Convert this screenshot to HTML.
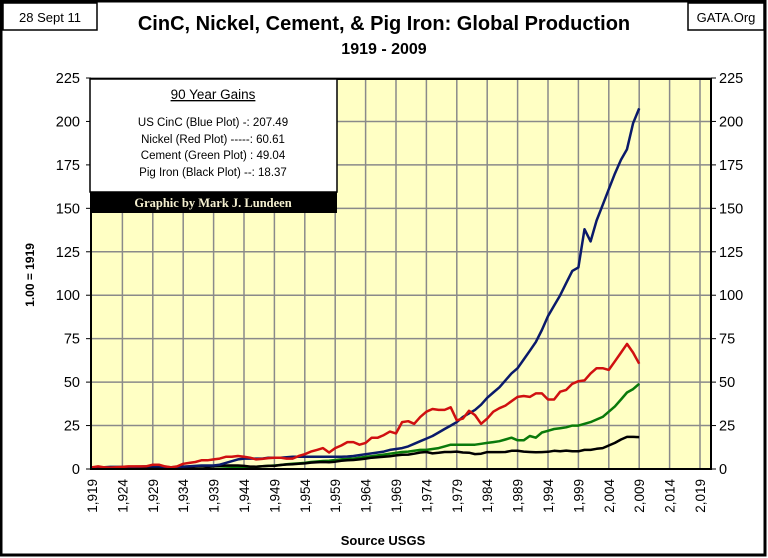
<!DOCTYPE html>
<html><head><meta charset="utf-8">
<style>
html,body{margin:0;padding:0;background:#fff;}
svg{display:block;font-family:"Liberation Sans",sans-serif;}
</style></head>
<body>
<svg id="chart" width="768" height="558" viewBox="0 0 768 558">
<rect x="1" y="1" width="764" height="554" fill="#fff" stroke="#000" stroke-width="3"/>
<rect x="3" y="3" width="94" height="27" fill="#fff" stroke="#000" stroke-width="1.5"/>
<text x="50" y="22" text-anchor="middle" font-size="13">28 Sept 11</text>
<rect x="688" y="3" width="76" height="27" fill="#fff" stroke="#000" stroke-width="1.5"/>
<text x="726" y="22" text-anchor="middle" font-size="13">GATA.Org</text>
<text x="384" y="30" text-anchor="middle" font-size="20" font-weight="bold">CinC, Nickel, Cement, &amp; Pig Iron: Global Production</text>
<text x="384" y="54" text-anchor="middle" font-size="16" font-weight="bold">1919 - 2009</text>
<rect x="91" y="79" width="620" height="390" fill="#ffffc4"/>
<g id="grid"></g>
<g id="series"></g>
<rect x="91" y="79" width="620" height="390" fill="none" stroke="#000" stroke-width="2"/>
<g id="axes"></g>
<g>
<rect x="90" y="79" width="247" height="113" fill="#fff" stroke="#000" stroke-width="1.5"/>
<rect x="90" y="192" width="247" height="21" fill="#000"/>
<text x="213" y="99" text-anchor="middle" font-size="13.5" text-decoration="underline">90 Year Gains</text>
<text x="213" y="126" text-anchor="middle" font-size="11.5">US CinC (Blue Plot) -: 207.49</text>
<text x="213" y="143" text-anchor="middle" font-size="11.5">Nickel (Red Plot) -----:   60.61</text>
<text x="213" y="159" text-anchor="middle" font-size="11.5">Cement  (Green Plot) : 49.04</text>
<text x="213" y="176" text-anchor="middle" font-size="11.5">Pig Iron  (Black Plot) --: 18.37</text>
<text x="213" y="207" text-anchor="middle" font-size="12.5" font-weight="bold" fill="#f5f0d0" font-family="Liberation Serif,serif">Graphic by Mark J. Lundeen</text>
</g>
<text transform="translate(34,275) rotate(-90)" text-anchor="middle" font-size="12" font-weight="bold">1.00 = 1919</text>
<text x="383" y="545" text-anchor="middle" font-size="13" font-weight="bold">Source USGS</text>
</svg>
<script>
const yTicks=[0,25,50,75,100,125,150,175,200,225];
const xTickYears=[1919,1924,1929,1934,1939,1944,1949,1954,1959,1964,1969,1974,1979,1984,1989,1994,1999,2004,2009,2014,2019];
const startYear=1919;
const cinc=[1,1,1,1.2,1.2,1.2,1.3,1.3,1.4,1.5,
1.6,1.5,1.2,1,1.2,1.4,1.6,1.8,2,2,
2,2.5,3.5,4.5,5.5,6,6,6,6,6.5,
6.5,6.5,6.8,7,7,7,7,7,7,7,
7,7,7.2,7.5,8,8.5,9,9.5,10,11,
11.5,12,13,14.5,16,17.5,19,21,23,25,
27,30,32,34,37,41,44,47,51,55,
58,63,68,73,80,88,94,100,107,114,
116,138,131,143,152,161,170,178,184,199,
207.49];
const nickel=[1,1.5,1,0.8,1,1.2,1.5,1.5,1.5,1.6,
2.5,2.5,1.5,1,1.5,3,3.5,4,5,5,
5.5,6,7,7,7.5,7,6.5,5.5,5.8,6.3,
6.5,6.5,6,6,7.5,8.5,10,11,12,9.5,
12,13.5,15.5,15.5,14,15,18,18,19.5,21.5,
20.5,27,27.5,26,30,33,34.5,34,34,35.5,
28,29,33.5,31,26,29,33,35,36.5,39,
41.5,42,41.5,43.5,43.5,40,40,44.5,45.5,49,
50.5,51,55,58,58,57,62,67,72,67,
60.61];
const cement=[1,1,1,1,1,1,1.2,1.2,1.3,1.4,
1.5,1.4,1.1,0.9,1,1.1,1.3,1.5,1.6,1.5,
1.5,1.5,1.4,1.3,1.2,1,1,1.3,1.6,1.8,
2,2.3,2.7,3,3.2,3.5,4,4.3,4.6,4.8,
5.2,5.5,5.8,6,6.5,7,7.3,7.8,8.3,8.8,
9.3,9.8,10,10.5,11,11,11.5,12,13,14,
14,14,14,14,14.5,15,15.5,16,17,18,
16.5,16.5,19,18,21,22,23,23.5,24,25,
25,26,27,28.5,30,33,36,40,44,46,
49.04];
const pigIron=[1,0.9,0.6,0.8,1,0.9,1,1,1,1,
1.1,0.9,0.6,0.4,0.6,0.9,1.1,1.4,1.5,1.2,
1.5,1.8,2,2,2,1.8,1.4,1.3,1.6,1.8,
1.8,2.3,2.6,2.7,3,3.2,3.7,3.9,4,3.9,
4.2,4.7,5,5.2,5.5,6,6.5,6.8,7,7.3,
7.8,8.2,8.3,8.8,9.5,9.8,9,9.3,9.8,9.8,
10,9.5,9.4,8.6,8.8,9.7,9.7,9.7,9.8,10.5,
10.5,10,9.8,9.6,9.7,9.9,10.5,10.2,10.6,10.2,
10.2,11,11,11.6,12,13.5,15,17,18.5,18.5,
18.37];

const NS="http://www.w3.org/2000/svg";
const xS=yr=>92+(yr-startYear)*6.08;
const yS=v=>469-v*(391/225);
function mk(tag,attrs,parent){const e=document.createElementNS(NS,tag);for(const k in attrs)e.setAttribute(k,attrs[k]);parent.appendChild(e);return e;}
const grid=document.getElementById('grid'),axes=document.getElementById('axes'),ser=document.getElementById('series');
yTicks.forEach(t=>{
  const y=yS(t);
  if(t>0){const l=mk('line',{x1:91,x2:711,y1:y,y2:y,stroke:'#8a8a8a','stroke-width':1.5},grid);
  
  }
  const a=mk('text',{x:80,y:y+5,'text-anchor':'end','font-size':14.5},axes);a.textContent=t;
  
  
  const b=mk('text',{x:719,y:y+5,'font-size':14.5},axes);b.textContent=t;
  
  
  mk('line',{x1:86,x2:91,y1:y,y2:y,stroke:'#000'},axes);
  mk('line',{x1:711,x2:716,y1:y,y2:y,stroke:'#000'},axes);
});
xTickYears.forEach(yr=>{
  const x=xS(yr);
  if(yr>startYear){const l=mk('line',{x1:x,x2:x,y1:79,y2:469,stroke:'#8a8a8a','stroke-width':1.5},grid);
  
  }
  const t=mk('text',{transform:`translate(${x+5},479) rotate(-90)`,'text-anchor':'end','font-size':13.5},axes);
  t.textContent=yr.toLocaleString('en-US');
  
  
});
function line(data,color,name){
  const pts=data.map((v,i)=>xS(startYear+i).toFixed(1)+','+yS(v).toFixed(1)).join(' ');
  const p=mk('polyline',{points:pts,fill:'none',stroke:color,'stroke-width':2.5,'stroke-linejoin':'round'},ser);
  
  
}
line(cement,'#0a7a0a','cement-line');
line(pigIron,'#000','pig-iron-line');
line(cinc,'#0a1a6a','cinc-line');
line(nickel,'#d01010','nickel-line');
</script>
</body></html>
